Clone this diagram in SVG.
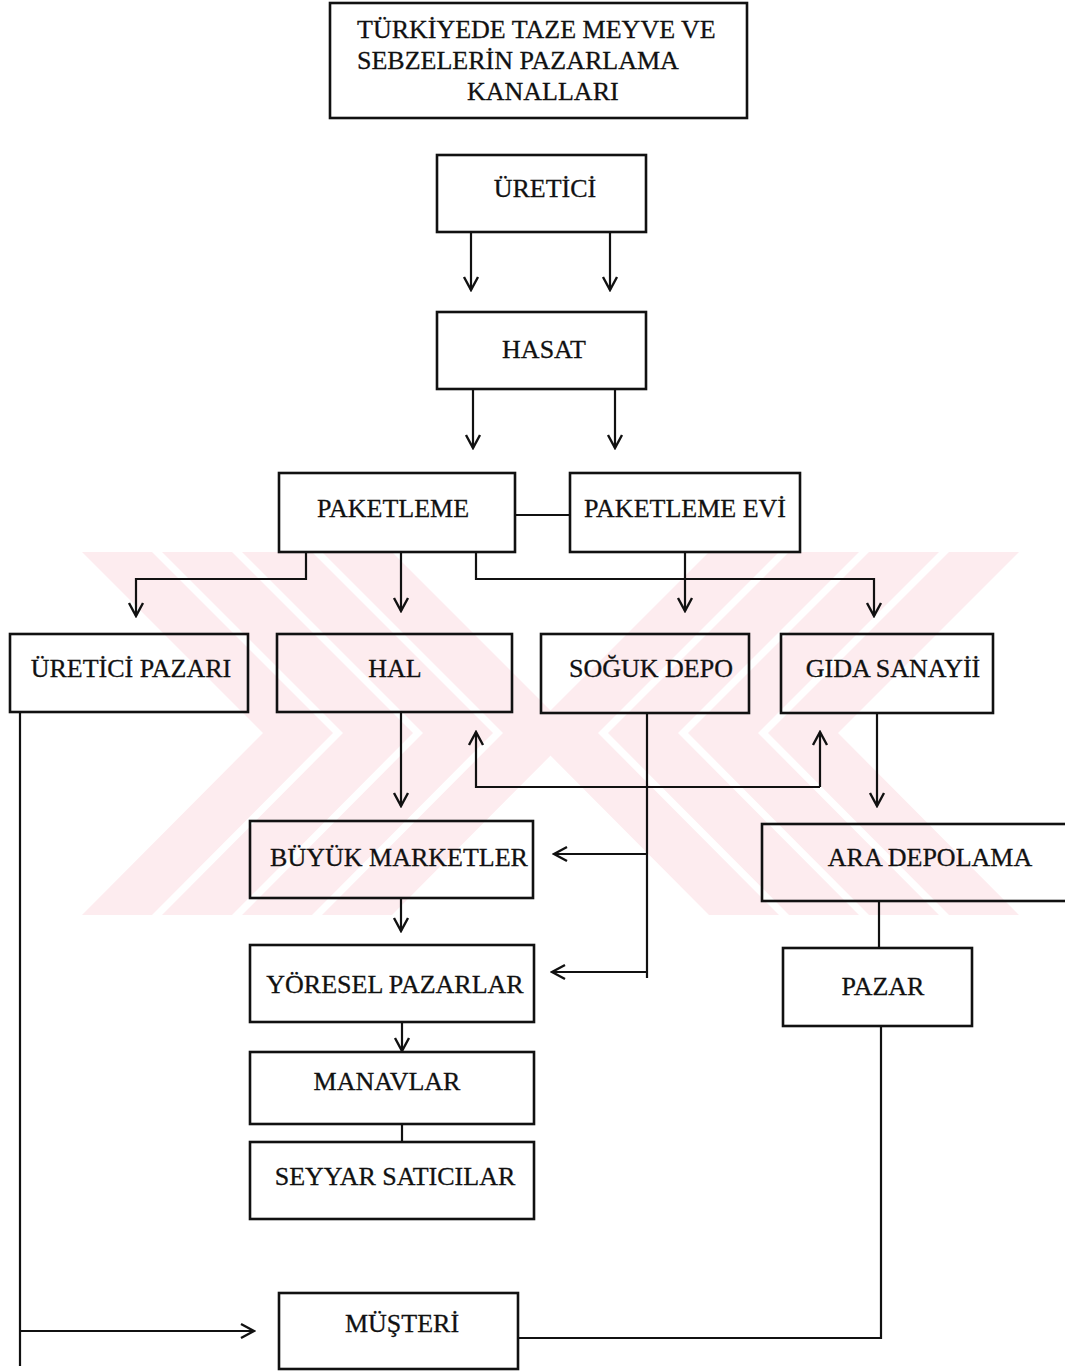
<svg xmlns="http://www.w3.org/2000/svg" width="1065" height="1371" viewBox="0 0 1065 1371">
<style>
.box{fill:none;stroke:#111;stroke-width:2.6}
.ln{fill:none;stroke:#111;stroke-width:2.2}
.ar{fill:none;stroke:#111;stroke-width:2.2;marker-end:url(#arr)}
.t{font-family:"Liberation Serif","Times New Roman",serif;font-size:26px;fill:#111;stroke:#111;stroke-width:0.3;text-anchor:middle}
.wm{fill:#fdecef}
</style>
<defs>
<marker id="arr" viewBox="0 0 20 20" refX="18" refY="10" markerWidth="20" markerHeight="20" markerUnits="userSpaceOnUse" orient="auto">
<path d="M5,3 L18,10 L5,17" fill="none" stroke="#111" stroke-width="2.4"/>
</marker>
<clipPath id="band"><rect x="82" y="552" width="937" height="363"/></clipPath>
</defs>
<rect width="1065" height="1371" fill="#fff"/>
<g id="watermark" clip-path="url(#band)">
<polygon class="wm" points="82,552 152,552 333,733 152,915 82,915 263,733"/>
<polygon class="wm" points="162,552 232,552 413,733 232,915 162,915 343,733"/>
<polygon class="wm" points="242,552 312,552 493,733 312,915 242,915 423,733"/>
<polygon class="wm" points="322,552 392,552 573,733 392,915 322,915 503,733"/>
<polygon class="wm" points="1019,552 949,552 768,733 949,915 1019,915 838,733"/>
<polygon class="wm" points="939,552 869,552 688,733 869,915 939,915 758,733"/>
<polygon class="wm" points="859,552 789,552 608,733 789,915 859,915 678,733"/>
<polygon class="wm" points="779,552 709,552 528,733 709,915 779,915 598,733"/>
</g>
<g id="connectors">
<line class="ar" x1="471" y1="232" x2="471" y2="290"/>
<line class="ar" x1="610" y1="232" x2="610" y2="290"/>
<line class="ar" x1="473" y1="389" x2="473" y2="448"/>
<line class="ar" x1="615" y1="389" x2="615" y2="448"/>
<line class="ln" x1="515" y1="515" x2="570" y2="515"/>
<polyline class="ar" points="306,552 306,579 136,579 136,616"/>
<line class="ar" x1="401" y1="552" x2="401" y2="611"/>
<polyline class="ar" points="476,552 476,579 874,579 874,616"/>
<line class="ar" x1="685" y1="552" x2="685" y2="611"/>
<line class="ar" x1="401" y1="712" x2="401" y2="806"/>
<polyline class="ar" points="820,787 476,787 476,732"/>
<line class="ar" x1="820" y1="787" x2="820" y2="732"/>
<line class="ln" x1="647" y1="713" x2="647" y2="978"/>
<line class="ar" x1="647" y1="854" x2="554" y2="854"/>
<line class="ar" x1="647" y1="972" x2="552" y2="972"/>
<line class="ar" x1="877" y1="713" x2="877" y2="806"/>
<line class="ln" x1="879" y1="901" x2="879" y2="948"/>
<line class="ar" x1="401" y1="898" x2="401" y2="931"/>
<line class="ar" x1="402" y1="1022" x2="402" y2="1051"/>
<line class="ln" x1="402" y1="1124" x2="402" y2="1142"/>
<line class="ln" x1="20" y1="712" x2="20" y2="1366"/>
<line class="ar" x1="20" y1="1331" x2="254" y2="1331"/>
<polyline class="ln" points="519,1338 881,1338 881,1026"/>
</g>
<g id="title"><rect class="box" x="330" y="3" width="417" height="115"/>
<text class="t" x="357" y="38" style="text-anchor:start">TÜRKİYEDE TAZE MEYVE VE</text>
<text class="t" x="357" y="69" style="text-anchor:start">SEBZELERİN PAZARLAMA</text>
<text class="t" x="467" y="100" style="text-anchor:start">KANALLARI</text></g>
<g id="uretici"><rect class="box" x="437" y="155" width="209" height="77"/><text class="t" x="545" y="197">ÜRETİCİ</text></g>
<g id="hasat"><rect class="box" x="437" y="312" width="209" height="77"/><text class="t" x="544" y="358">HASAT</text></g>
<g id="paketleme"><rect class="box" x="279" y="473" width="236" height="79"/><text class="t" x="393" y="517">PAKETLEME</text></g>
<g id="paketleme-evi"><rect class="box" x="570" y="473" width="230" height="79"/><text class="t" x="685" y="517">PAKETLEME EVİ</text></g>
<g id="uretici-pazari"><rect class="box" x="10" y="634" width="238" height="78"/><text class="t" x="131" y="677">ÜRETİCİ PAZARI</text></g>
<g id="hal"><rect class="box" x="277" y="634" width="235" height="78"/><text class="t" x="395" y="677">HAL</text></g>
<g id="soguk-depo"><rect class="box" x="541" y="634" width="208" height="79"/><text class="t" x="651" y="677">SOĞUK DEPO</text></g>
<g id="gida-sanayii"><rect class="box" x="781" y="634" width="212" height="79"/><text class="t" x="893" y="677">GIDA SANAYİİ</text></g>
<g id="buyuk-marketler"><rect class="box" x="250" y="821" width="283" height="77"/><text class="t" x="399" y="866">BÜYÜK MARKETLER</text></g>
<g id="ara-depolama"><rect class="box" x="762" y="824" width="320" height="77"/><text class="t" x="930" y="866">ARA DEPOLAMA</text></g>
<g id="yoresel-pazarlar"><rect class="box" x="250" y="945" width="284" height="77"/><text class="t" x="395" y="993">YÖRESEL PAZARLAR</text></g>
<g id="pazar"><rect class="box" x="783" y="948" width="189" height="78"/><text class="t" x="883" y="995">PAZAR</text></g>
<g id="manavlar"><rect class="box" x="250" y="1052" width="284" height="72"/><text class="t" x="387" y="1090">MANAVLAR</text></g>
<g id="seyyar-saticilar"><rect class="box" x="250" y="1142" width="284" height="77"/><text class="t" x="395" y="1185">SEYYAR SATICILAR</text></g>
<g id="musteri"><rect class="box" x="279" y="1293" width="239" height="76"/><text class="t" x="402" y="1332">MÜŞTERİ</text></g>
</svg>
